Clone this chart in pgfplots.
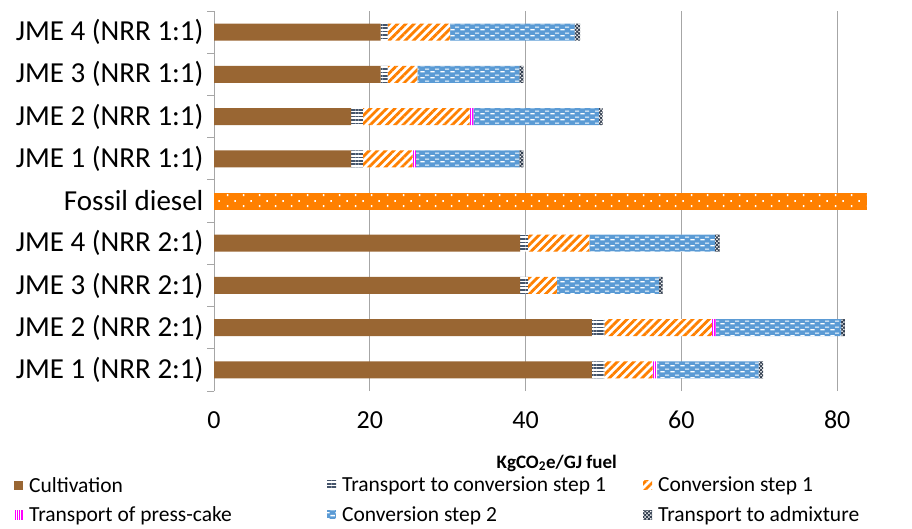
\documentclass[border=0pt]{standalone}
\usepackage{fontspec}
\setmainfont{Carlito}
\usepackage{pgfplots}
\usepackage{pgfplotstable}
\pgfplotsset{compat=1.18}
\usetikzlibrary{patterns,patterns.meta}

\definecolor{cult}{HTML}{996633}
\definecolor{trone}{HTML}{44546A}
\definecolor{convone}{HTML}{FF8000}
\definecolor{press}{HTML}{FF00FF}
\definecolor{convtwo}{HTML}{5B9BD5}
\definecolor{admix}{HTML}{333F50}
\definecolor{fossil}{HTML}{FF8000}
\definecolor{gridc}{HTML}{A6A6A6}

% white dashes on blue (conversion step 2)
\pgfdeclarepatternformonly{wdash}{\pgfqpoint{0pt}{0pt}}{\pgfqpoint{10pt}{6pt}}{\pgfqpoint{10pt}{6pt}}{%
  \pgfpathrectangle{\pgfqpoint{0.5pt}{0.8pt}}{\pgfqpoint{4.5pt}{1.4pt}}%
  \pgfpathrectangle{\pgfqpoint{5.5pt}{3.8pt}}{\pgfqpoint{4.5pt}{1.4pt}}%
  \pgfusepath{fill}}
% sparse white dots on orange (fossil diesel)
\pgfdeclarepatternformonly{wdots}{\pgfqpoint{0pt}{0pt}}{\pgfqpoint{16pt}{11pt}}{\pgfqpoint{16pt}{11pt}}{%
  \pgfpathrectangle{\pgfqpoint{3pt}{2pt}}{\pgfqpoint{1.6pt}{2pt}}%
  \pgfpathrectangle{\pgfqpoint{11pt}{7.5pt}}{\pgfqpoint{1.6pt}{2pt}}%
  \pgfusepath{fill}}

% emissions per stage, kg CO2e / GJ fuel (rows bottom to top)
\pgfplotstableread{
y cult trone convone press convtwo admix fossil
0 48.5 1.6 6.2  0.6 13.0 0.6 0
1 48.5 1.6 13.8 0.5 16.1 0.5 0
2 39.3 1.0 3.7  0   13.1 0.5 0
3 39.3 1.0 7.9  0   16.1 0.6 0
4 0    0   0    0   0    0   83.8
5 17.6 1.5 6.4  0.4 13.3 0.5 0
6 17.6 1.5 13.7 0.5 16.1 0.5 0
7 21.4 0.9 3.8  0   13.1 0.5 0
8 21.4 0.9 8.0  0   16.0 0.7 0
}\data

\begin{document}
\begin{tikzpicture}
\begin{axis}[
  at={(214pt,137pt)}, anchor=south west,
  scale only axis, width=685.5pt, height=380pt,
  xbar stacked, bar width=17pt,
  xmin=0, xmax=88, ymin=-0.5, ymax=8.5,
  xtick={0,20,...,80},
  ytick={0,...,8},
  yticklabels={JME 1 (NRR 2:1),JME 2 (NRR 2:1),JME 3 (NRR 2:1),JME 4 (NRR 2:1),Fossil diesel\hspace{11pt},JME 1 (NRR 1:1),JME 2 (NRR 1:1),JME 3 (NRR 1:1),JME 4 (NRR 1:1)},
  major tick length=0pt,
  extra y ticks={-0.5,0.5,1.5,2.5,3.5,4.5,5.5,6.5,7.5,8.5},
  extra y tick labels={},
  extra y tick style={major tick length=7pt, tick align=outside, tick style={gridc, line width=0.8pt}, grid=none},
  xmajorgrids, grid style={gridc, line width=1pt},
  axis x line*=bottom, axis y line*=left,
  x axis line style={draw=none},
  y axis line style={gridc, line width=1pt, -},
  /pgf/number format/assume math mode=true,
  xticklabel style={font=\fontsize{26}{30}\selectfont, anchor=center, yshift=-29pt},
  yticklabel style={font=\fontsize{29}{34}\selectfont, anchor=east, xshift=-7pt},
  xlabel={KgCO\textsubscript{2}e/GJ fuel},
  xlabel style={font=\fontsize{19}{22}\selectfont\bfseries, at={(axis description cs:0.5,0)}, anchor=center, yshift=-72pt},
  legend columns=3,
  legend style={at={(axis description cs:-0.2918,-0.2260)}, anchor=north west, draw=none, fill=none,
    font=\fontsize{21.5}{25}\selectfont, row sep=13pt, column sep=0pt, inner sep=0pt,
    nodes={inner sep=0pt, anchor=west}},
  legend image code/.code={\fill[#1] (0pt,-4.5pt) rectangle (9pt,4.5pt);},
]
\addplot[fill=cult, draw=none] table[x=cult, y=y] {\data};
\addlegendentry{\hspace{6pt}\makebox[298pt][l]{Cultivation}}
\addplot[draw=none, fill=white, postaction={pattern={Lines[angle=0,distance=3.4pt,line width=1.7pt]}, pattern color=trone}] table[x=trone, y=y] {\data};
\addlegendentry{\hspace{6pt}\makebox[301pt][l]{Transport to conversion step 1}}
\addplot[draw=none, fill=white, postaction={pattern={Lines[angle=45,distance=5.8pt,line width=2.8pt]}, pattern color=convone}] table[x=convone, y=y] {\data};
\addlegendentry{\hspace{6pt}Conversion step 1}
\addplot[draw=none, fill=white, postaction={pattern={Lines[angle=90,distance=2.2pt,line width=1.1pt]}, pattern color=press}] table[x=press, y=y] {\data};
\addlegendentry{\hspace{6pt}Transport of press-cake}
\addplot[draw=none, fill=convtwo, postaction={pattern=wdash, pattern color=white}] table[x=convtwo, y=y] {\data};
\addlegendentry{\hspace{6pt}Conversion step 2}
\addplot[draw=none, fill=white, postaction={pattern={Hatch[angle=45,distance=2.6pt,line width=1pt]}, pattern color=admix}] table[x=admix, y=y] {\data};
\addlegendentry{\hspace{6pt}Transport to admixture}
\addplot[forget plot, draw=none, fill=fossil, postaction={pattern=wdots, pattern color=white}] table[x=fossil, y=y] {\data};
\end{axis}
\pgfresetboundingbox
\path[use as bounding box] (0,0) rectangle (912pt,528pt);
\end{tikzpicture}
\end{document}
